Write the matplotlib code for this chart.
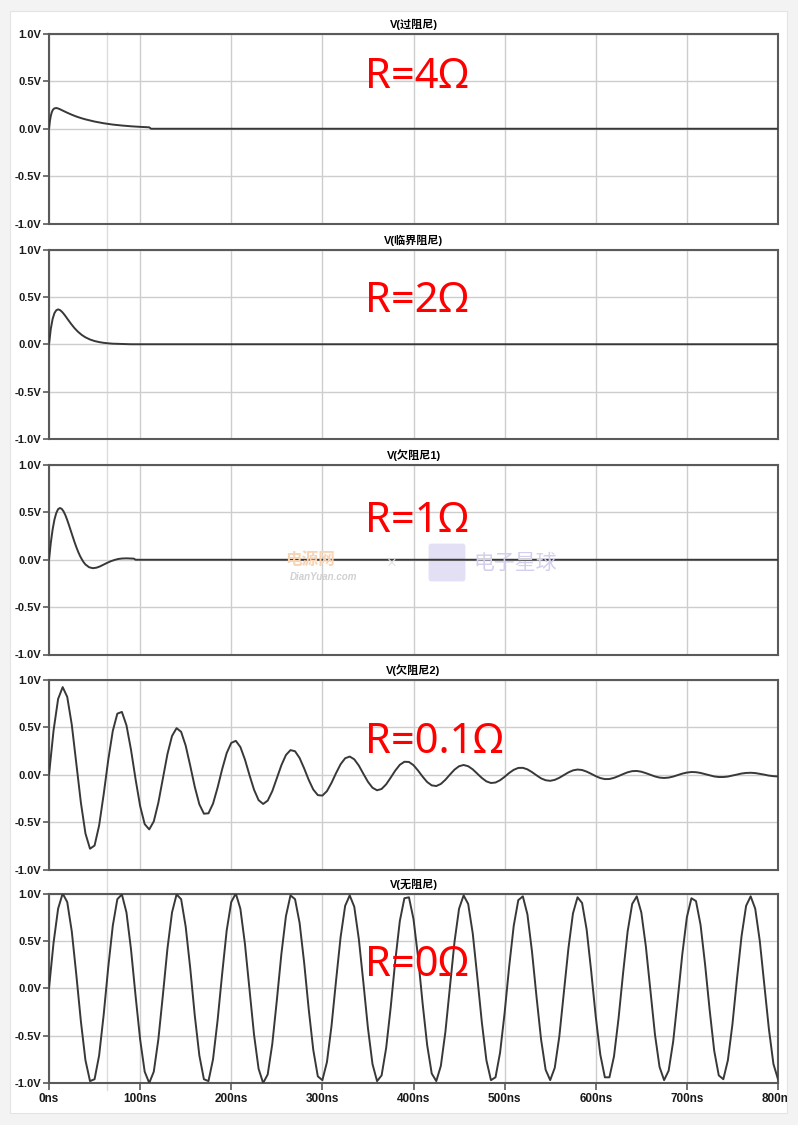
import numpy as np
import matplotlib.pyplot as plt
from matplotlib.patches import Rectangle, FancyBboxPatch
from matplotlib.lines import Line2D

plt.rcParams['font.family'] = ['Liberation Sans', 'Noto Sans CJK SC', 'DejaVu Sans']

# ---- data ----
titles = ['V(过阻尼)', 'V(临界阻尼)', 'V(欠阻尼1)', 'V(欠阻尼2)', 'V(无阻尼)']
r_labels = ['R=4Ω', 'R=2Ω', 'R=1Ω', 'R=0.1Ω', 'R=0Ω']
y_ticks = [-1.0, -0.5, 0.0, 0.5, 1.0]
y_tick_labels = ['-1.0V', '-0.5V', '0.0V', '0.5V', '1.0V']
x_ticks = [0, 100, 200, 300, 400, 500, 600, 700, 800]
x_tick_labels = ['0ns', '100ns', '200ns', '300ns', '400ns', '500ns', '600ns', '700ns', '800ns']

# R = 4 ohm (overdamped)
t_4ohm = [0, 1, 2, 3, 4, 5, 6, 8, 10, 12, 15, 20, 25, 30, 35, 40, 50, 60, 70, 80,
          90, 100, 110, 112, 800]
v_4ohm = [0, 0.082, 0.137, 0.172, 0.195, 0.208, 0.215, 0.219, 0.214, 0.206, 0.192,
          0.169, 0.148, 0.129, 0.113, 0.099, 0.076, 0.058, 0.044, 0.034, 0.026,
          0.020, 0.015, 0.0, 0.0]

# R = 2 ohm (critical)
t_2ohm = [0, 2, 4, 6, 8, 10, 12, 14, 16, 18, 20, 24, 28, 32, 36, 40, 45, 50, 55, 60,
          65, 70, 80, 90, 800]
v_2ohm = [0, 0.164, 0.268, 0.329, 0.359, 0.368, 0.361, 0.345, 0.323, 0.298, 0.271,
          0.218, 0.170, 0.130, 0.098, 0.073, 0.050, 0.034, 0.023, 0.015, 0.010,
          0.006, 0.003, 0.0, 0.0]

# R = 1 ohm (underdamped 1)
t_1ohm = [0, 2, 4, 6, 8, 10, 12, 14, 16, 18, 20, 22, 24, 26, 28, 30, 32, 34, 36, 38,
          40, 44, 48, 52, 56, 60, 64, 68, 72, 76, 80, 85, 90, 93, 95, 800]
v_1ohm = [0, 0.180, 0.321, 0.425, 0.494, 0.534, 0.546, 0.537, 0.510, 0.470, 0.419,
          0.363, 0.304, 0.245, 0.187, 0.133, 0.084, 0.041, 0.005, -0.026, -0.050,
          -0.079, -0.089, -0.084, -0.070, -0.051, -0.032, -0.015, -0.002, 0.008,
          0.013, 0.015, 0.013, 0.012, 0.0, 0.0]

# R = 0.1 ohm (underdamped 2), one sample every 5 ns
v_01ohm = [
    0, 0.467, 0.800, 0.925, 0.822, 0.528, 0.121, -0.295, -0.620, -0.781, -0.747, -0.536, -0.207,
    0.155, 0.463, 0.645, 0.663, 0.522, 0.263, -0.047, -0.330, -0.521, -0.577, -0.492, -0.295, -0.035,
    0.219, 0.409, 0.492, 0.453, 0.307, 0.095, -0.129, -0.312, -0.411, -0.407, -0.305, -0.136,
    0.058, 0.229, 0.336, 0.358, 0.293, 0.161, -0.003, -0.158, -0.268, -0.308, -0.273, -0.174, -0.038,
    0.100, 0.208, 0.260, 0.248, 0.177, 0.067, -0.054, -0.156, -0.215, -0.220, -0.173, -0.086,
    0.017, 0.111, 0.174, 0.192, 0.163, 0.097, 0.010, -0.074, -0.137, -0.164, -0.150, -0.101, -0.030,
    0.044, 0.105, 0.137, 0.135, 0.101, 0.044, -0.020, -0.077, -0.112, -0.119, -0.097, -0.053,
    0.002, 0.054, 0.090, 0.103, 0.090, 0.057, 0.012, -0.034, -0.070, -0.087, -0.082, -0.058, -0.022,
    0.019, 0.052, 0.072, 0.073, 0.057, 0.028, -0.006, -0.038, -0.058, -0.064, -0.054, -0.032, -0.003,
    0.025, 0.046, 0.055, 0.050, 0.033, 0.010, -0.015, -0.035, -0.046, -0.045, -0.033, -0.014,
    0.007, 0.026, 0.038, 0.040, 0.032, 0.017, -0.001, -0.018, -0.030, -0.034, -0.030, -0.019, -0.004,
    0.012, 0.023, 0.029, 0.027, 0.019, 0.007, -0.006, -0.018, -0.024, -0.024, -0.019, -0.009,
    0.002, 0.013, 0.019, 0.021, 0.018, 0.010, 0.001, -0.009, -0.015, -0.018]

# R = 0 ohm (undamped), one sample every 5 ns
v_0ohm = [
    0.00, 0.48, 0.84, 1.00, 0.91, 0.60, 0.14, -0.35, -0.76, -0.98, -0.96, -0.71, -0.28,
    0.22, 0.66, 0.94, 0.99, 0.80, 0.41, -0.08, -0.54, -0.88, -1.00, -0.88, -0.54, -0.07,
    0.42, 0.80, 0.99, 0.94, 0.65, 0.21, -0.29, -0.71, -0.96, -0.98, -0.75, -0.34,
    0.15, 0.61, 0.91, 1.00, 0.84, 0.47, -0.01, -0.49, -0.85, -1.00, -0.91, -0.59, -0.13,
    0.36, 0.76, 0.98, 0.94, 0.69, 0.27, -0.22, -0.65, -0.93, -0.97, -0.78, -0.40,
    0.08, 0.54, 0.87, 0.98, 0.86, 0.52, 0.06, -0.42, -0.80, -0.98, -0.92, -0.63, -0.20,
    0.29, 0.71, 0.95, 0.96, 0.73, 0.33, -0.16, -0.60, -0.90, -0.98, -0.82, -0.46,
    0.02, 0.49, 0.84, 0.98, 0.89, 0.58, 0.12, -0.36, -0.76, -0.97, -0.94, -0.68, -0.26,
    0.23, 0.66, 0.93, 0.97, 0.78, 0.39, -0.09, -0.54, -0.86, -0.97, -0.84, -0.51, -0.05,
    0.42, 0.79, 0.96, 0.90, 0.62, 0.18, -0.30, -0.70, -0.94, -0.94, -0.72, -0.32,
    0.16, 0.60, 0.89, 0.97, 0.80, 0.44, -0.03, -0.49, -0.83, -0.97, -0.87, -0.56, -0.11,
    0.36, 0.75, 0.95, 0.92, 0.67, 0.25, -0.23, -0.66, -0.92, -0.96, -0.76, -0.38,
    0.10, 0.55, 0.87, 0.97, 0.84, 0.50, 0.04, -0.43, -0.80, -0.96]

t_5ns = np.arange(len(v_0ohm)) * 5
series = [(t_4ohm, v_4ohm), (t_2ohm, v_2ohm), (t_1ohm, v_1ohm),
          (np.arange(len(v_01ohm)) * 5, v_01ohm), (t_5ns, v_0ohm)]

# ---- layout (pixels of the 798x1125 picture) ----
W, H = 798, 1125
def fx(x):
    return x / W
def fy(y):
    return 1 - y / H

fig = plt.figure(figsize=(W / 100, H / 100), dpi=100)
fig.patch.set_facecolor('#f3f3f3')
card = Rectangle((fx(10), fy(1113)), fx(777), 1102 / H, transform=fig.transFigure,
                 facecolor='white', edgecolor='#e4e4e4', lw=0.8, zorder=-10)
fig.patches.append(card)
# faint vertical line that crosses every pane in the screenshot
fig.lines.append(Line2D([fx(107), fx(107)], [fy(32), fy(1090)], transform=fig.transFigure,
                        color='#dcdcdc', lw=1.0, zorder=-5))

tops = [34, 249.5, 465, 680, 893.5]
pane_h = 189.5
baselines = [88, 312, 532, 753, 976]

axes = []
for i, (t, v) in enumerate(series):
    ax = fig.add_axes([fx(49), fy(tops[i] + pane_h), fx(729), pane_h / H])
    ax.set_facecolor('none')
    ax.plot(t, v, color='#383838', lw=1.4, zorder=3,
            solid_joinstyle='round', solid_capstyle='round')
    ax.set_xlim(0, 800)
    ax.set_ylim(-1, 1)
    ax.set_xticks(x_ticks)
    ax.set_yticks(y_ticks)
    ax.set_yticklabels(y_tick_labels, fontsize=8, fontweight='bold', color='#1a1a1a')
    ax.grid(True, color='#cdcdcd', lw=1.0)
    ax.set_axisbelow(True)
    for s in ax.spines.values():
        s.set_color('#5a5a5a')
        s.set_linewidth(1.5)
    ax.tick_params(axis='y', length=4, width=1.2, color='#5a5a5a', pad=1.5)
    if i == len(series) - 1:
        ax.set_xticklabels(x_tick_labels, fontsize=8.5, fontweight='bold', color='#1a1a1a')
        ax.tick_params(axis='x', length=5, width=1.2, color='#5a5a5a', pad=2)
        for lab in ax.get_xticklabels():
            lab.set_clip_path(card)
    else:
        ax.tick_params(axis='x', length=0, labelbottom=False)
    ax.set_title(titles[i], fontsize=8, fontweight='bold', pad=4)
    ax.text((365 - 49) / 729, 1 - (baselines[i] - tops[i]) / pane_h, r_labels[i],
            transform=ax.transAxes, color='red', fontsize=30, va='baseline', ha='left',
            family=['Noto Sans', 'DejaVu Sans'], zorder=5)
    axes.append(ax)

# site watermark in the middle pane
fig.text(fx(310), fy(560), '电源网', color='#f7d4b4', fontsize=12, fontweight='bold',
         ha='center', va='center', family=['Noto Sans CJK SC'])
fig.text(fx(324), fy(577), 'DianYuan.com', color='#d0d0d0', fontsize=7, style='italic',
         fontweight='bold', ha='center', va='center')
fig.text(fx(392), fy(563), '×', color='#e2e2e2', fontsize=12, ha='center', va='center')
fig.patches.append(FancyBboxPatch((fx(431), fy(578)), fx(32), 31 / H,
                                  boxstyle='round,pad=0.003', transform=fig.transFigure,
                                  facecolor='#e3e0f5', edgecolor='none', zorder=-4))
fig.text(fx(515), fy(563), '电子星球', color='#d3cfee', fontsize=15,
         ha='center', va='center', family=['Noto Sans CJK SC'])

fig.savefig('out.png', dpi=100, facecolor=fig.get_facecolor())
